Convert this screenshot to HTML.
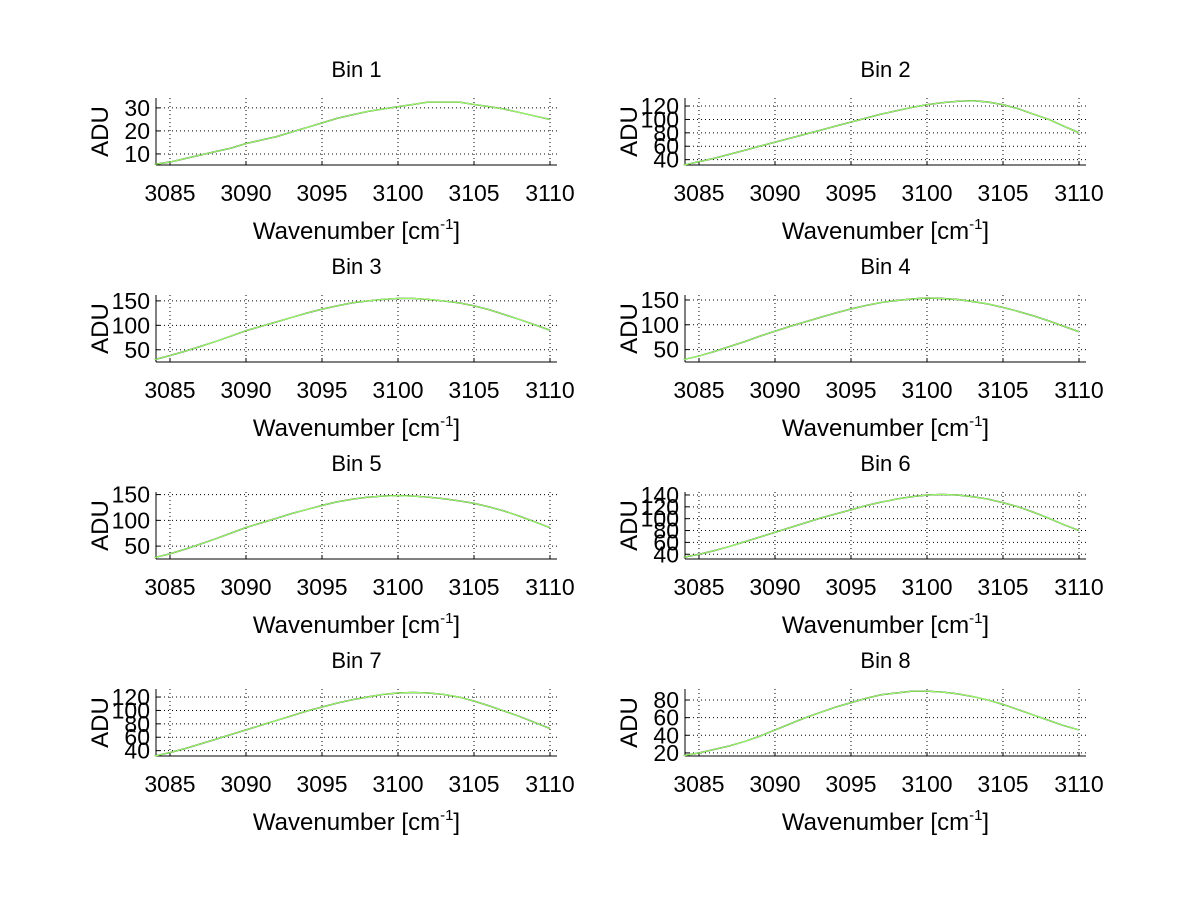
<!DOCTYPE html>
<html><head><meta charset="utf-8"><style>
body{margin:0;background:#fff;}
svg{display:block;font-family:"Liberation Sans",sans-serif;}
</style></head><body>
<svg id="fig" width="1200" height="901"></svg>
<script>
const wavenumbers=[3084,3085,3086,3087,3088,3089,3090,3091,3092,3093,3094,3095,3096,3097,3098,3099,3100,3101,3102,3103,3104,3105,3106,3107,3108,3109,3110];
const xTicks=[3085,3090,3095,3100,3105,3110];
const bin1=[5.5,6.5,8,9.5,11,12.5,14.5,16,17.5,19.5,21.5,23.5,25.5,27,28.5,29.5,30.5,31.5,32.5,32.5,32.5,31.5,30.5,29.5,28,26.5,25];
const bin2=[32,37,42,48,54,60,66,72,78,84,90,96,102,108,113,118,122,125,127,128,126,122,116,108,100,90,80];
const bin3=[30,38,47,57,67,78,89,98,107,116,125,133,140,146,150,153,155,155,153,150,146,140,132,122,112,101,90];
const bin4=[30,37,46,56,66,77,87,97,106,115,124,132,139,145,149,152,154,153,151,147,142,135,127,118,108,97,86];
const bin5=[28,35,44,54,64,75,86,95,104,113,121,129,136,141,145,147,148,147,145,142,138,133,126,118,108,97,86];
const bin6=[35,40,46,53,61,69,77,85,93,101,108,115,122,128,133,137,140,141,140,137,133,127,120,111,101,90,80];
const bin7=[32,37,43,50,57,64,71,78,85,92,99,105,111,116,120,124,126,127,126,124,120,114,107,99,91,82,73];
const bin8=[17,20,24,28,33,39,46,53,60,66,72,77,82,86,88,90,90,89,87,84,80,75,69,63,57,51,46];
const binSeries=[bin1,bin2,bin3,bin4,bin5,bin6,bin7,bin8];
const yTicks=[[10,20,30],[40,60,80,100,120],[50,100,150],[50,100,150],[50,100,150],[40,60,80,100,120,140],[40,60,80,100,120],[20,40,60,80]];
const yLims=[[5.2,34.3],[32,132],[25,162],[25,160],[25,155],[32,145],[32,132],[16.5,92.5]];
const xLim=[3084.08,3110.46];

const NS="http://www.w3.org/2000/svg";
const svg=document.getElementById('fig');
function mk(tag,attrs,parent){const e=document.createElementNS(NS,tag);for(const k in attrs)e.setAttribute(k,attrs[k]);(parent||svg).appendChild(e);return e;}

for(let i=0;i<8;i++){
  const col=i%2,row=Math.floor(i/2);
  const L=col?685:156,R=col?1086:557,T=98+row*197,B=165+row*197;
  const g=mk('g',{});
  
  
  const xs=v=>L+(v-xLim[0])/(xLim[1]-xLim[0])*(R-L);
  const ys=v=>B-(v-yLims[i][0])/(yLims[i][1]-yLims[i][0])*(B-T);
  xTicks.forEach(t=>{
    const gl=mk('line',{x1:xs(t),x2:xs(t),y1:T,y2:B,stroke:'#000','stroke-width':1,'stroke-dasharray':'1,3'},g);
    
    
    mk('line',{x1:xs(t),x2:xs(t),y1:B,y2:B-4,stroke:'#000'},g);
    const tl=mk('text',{x:xs(t),y:B+36,'font-size':23,'text-anchor':'middle'},g);
    tl.textContent=t;
    
    
  });
  yTicks[i].forEach(t=>{
    const gl=mk('line',{x1:L,x2:R,y1:ys(t),y2:ys(t),stroke:'#000','stroke-width':1,'stroke-dasharray':'1,3'},g);
    
    
    mk('line',{x1:L,x2:L+4,y1:ys(t),y2:ys(t),stroke:'#000'},g);
    const tl=mk('text',{x:L-6,y:ys(t)+8,'font-size':23,'text-anchor':'end'},g);
    tl.textContent=t;
    
    
  });
  mk('line',{x1:L,x2:L,y1:T,y2:B,stroke:'#000'},g);
  mk('line',{x1:L,x2:R,y1:B,y2:B,stroke:'#000'},g);
  const data=binSeries[i];
  const pts=data.map((v,k)=>xs(wavenumbers[k]).toFixed(1)+','+ys(v).toFixed(1)).join(' ');
  const bl=mk('polyline',{points:pts,fill:'none',stroke:'#000','stroke-width':1.4},g);
  
  
  const gr=mk('polyline',{points:pts,fill:'none',stroke:'#9f6','stroke-width':1.2},g);
  
  
  const ti=mk('text',{x:(L+R)/2,y:T-21,'font-size':22,'text-anchor':'middle'},g);
  ti.textContent='Bin '+(i+1);
  
  
  const xl=mk('text',{x:(L+R)/2,y:B+74,'font-size':24,'text-anchor':'middle'},g);
  xl.innerHTML='Wavenumber [cm<tspan dy="-10" font-size="15">-1</tspan><tspan dy="10">]</tspan>';
  
  
  const yl=mk('text',{x:0,y:0,'font-size':24,'text-anchor':'middle',transform:'translate('+(L-48)+','+((T+B)/2)+') rotate(-90)'},g);
  yl.textContent='ADU';
  
  
}
</script>
</body></html>
